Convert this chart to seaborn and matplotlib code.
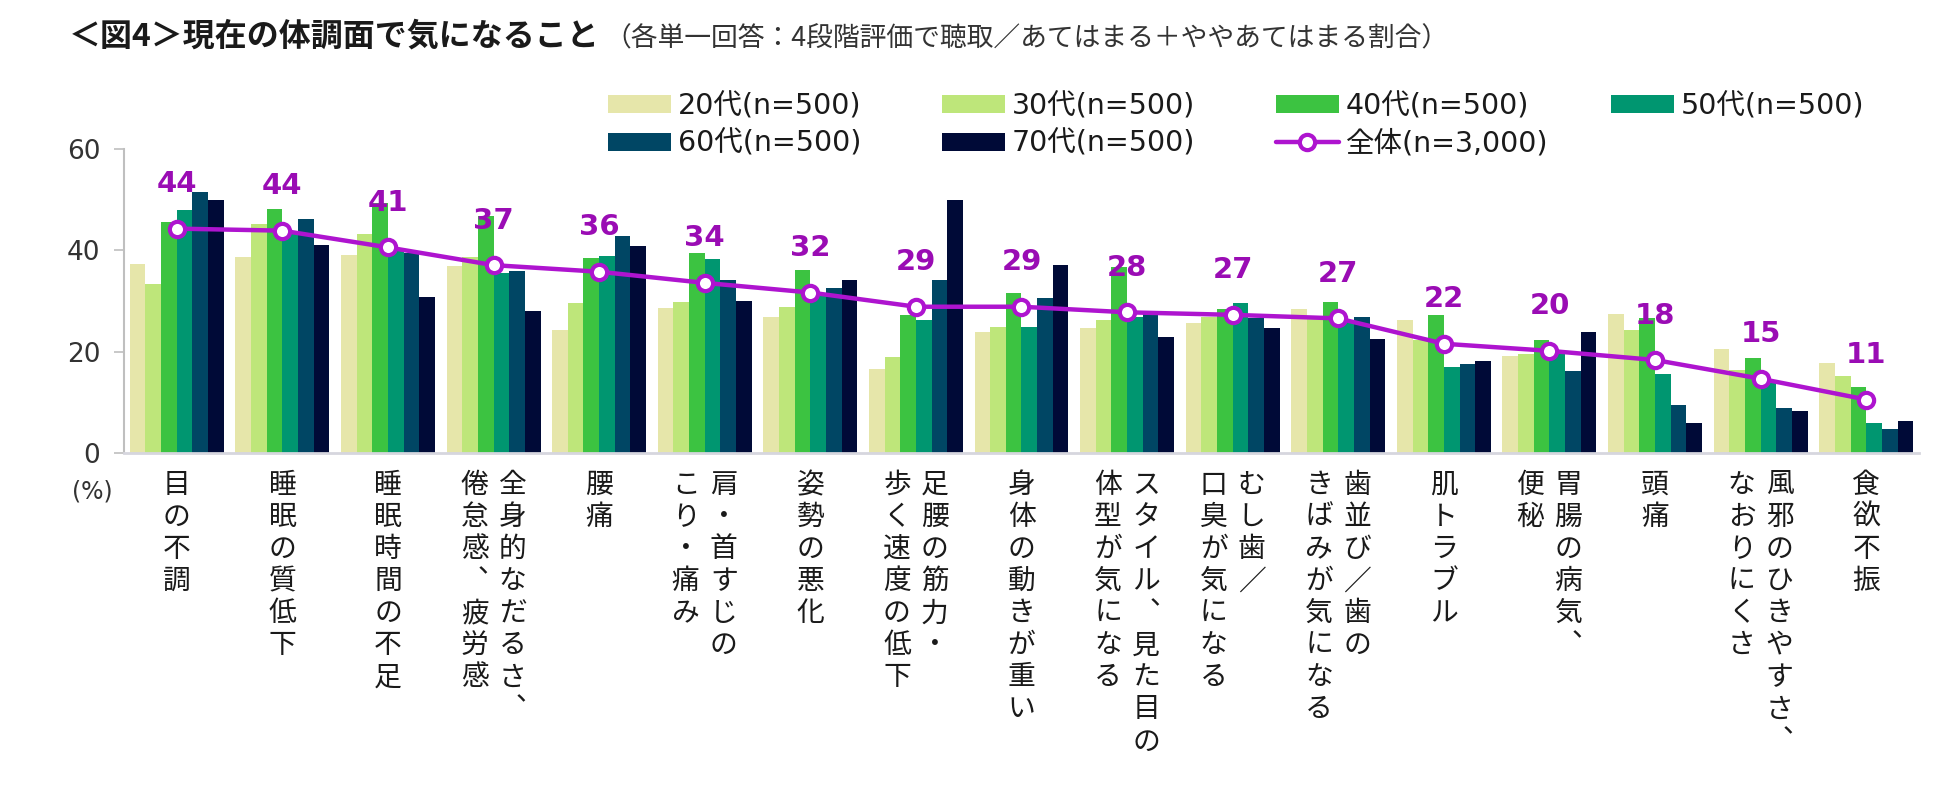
import numpy as np
import pandas as pd
import matplotlib
matplotlib.use("Agg")
import matplotlib.pyplot as plt
from matplotlib.patches import Patch
from matplotlib.lines import Line2D
import seaborn as sns

# ---------------- data ----------------
items = ["目の不調", "睡眠の質低下", "睡眠時間の不足", "全身的なだるさ、倦怠感、疲労感",
         "腰痛", "肩・首すじのこり・痛み", "姿勢の悪化", "足腰の筋力・歩く速度の低下",
         "身体の動きが重い", "スタイル、見た目の体型が気になる", "むし歯／口臭が気になる",
         "歯並び／歯のきばみが気になる", "肌トラブル", "胃腸の病気、便秘", "頭痛",
         "風邪のひきやすさ、なおりにくさ", "食欲不振"]

# vertical tick labels, one string per column (right column first)
tick_cols = [["目の不調"], ["睡眠の質低下"], ["睡眠時間の不足"], ["全身的なだるさ︑", "倦怠感︑疲労感"],
             ["腰痛"], ["肩・首すじの", "こり・痛み"], ["姿勢の悪化"], ["足腰の筋力・", "歩く速度の低下"],
             ["身体の動きが重い"], ["スタイル︑見た目の", "体型が気になる"], ["むし歯／", "口臭が気になる"],
             ["歯並び／歯の", "きばみが気になる"], ["肌トラブル"], ["胃腸の病気︑", "便秘"], ["頭痛"],
             ["風邪のひきやすさ︑", "なおりにくさ"], ["食欲不振"]]

ages = ["20代(n=500)", "30代(n=500)", "40代(n=500)", "50代(n=500)", "60代(n=500)", "70代(n=500)"]
overall_name = "全体(n=3,000)"

v20 = [37.3, 38.8, 39.1, 36.9, 24.3, 28.7, 26.8, 16.6, 23.9, 24.7, 25.7, 28.5, 26.3, 19.1, 27.5, 20.6, 17.9]
v30 = [33.3, 45.2, 43.2, 38.8, 29.7, 29.8, 28.8, 19.0, 24.9, 26.3, 26.8, 26.5, 22.3, 19.6, 24.3, 16.4, 15.2]
v40 = [45.6, 48.2, 49.3, 46.8, 38.5, 39.5, 36.1, 27.3, 31.6, 36.8, 28.5, 29.8, 27.2, 22.3, 26.6, 18.7, 13.1]
v50 = [48.0, 43.5, 40.5, 35.5, 38.9, 38.3, 31.0, 26.2, 25.0, 26.9, 29.7, 26.0, 17.0, 20.0, 15.7, 13.8, 5.9]
v60 = [51.5, 46.2, 39.5, 35.9, 42.9, 34.2, 32.5, 34.1, 30.6, 28.1, 26.6, 26.8, 17.6, 16.3, 9.5, 9.0, 4.7]
v70 = [50.0, 41.1, 30.8, 28.1, 40.8, 30.1, 34.1, 50.0, 37.1, 22.9, 24.7, 22.5, 18.2, 23.9, 5.9, 8.3, 6.3]
overall = [44.3, 43.9, 40.6, 37.1, 35.8, 33.6, 31.7, 28.9, 28.9, 27.8, 27.3, 26.6, 21.6, 20.2, 18.4, 14.7, 10.6]

colors = ["#E6E6AA", "#BEE67A", "#3CC341", "#009670", "#004664", "#000A37"]
line_color = "#AE14CF"
label_color = "#9A0CB4"

df = pd.DataFrame({
    "item": items * 6,
    "age": np.repeat(ages, len(items)),
    "value": v20 + v30 + v40 + v50 + v60 + v70,
})

# ---------------- style ----------------
sns.set_theme(style="white")
plt.rcParams["font.family"] = ["Noto Sans CJK JP", "DejaVu Sans"]
latin = ["DejaVu Sans", "Noto Sans CJK JP"]

W, H = 1950, 785
fig = plt.figure(figsize=(W / 100, H / 100), dpi=100)
ax = fig.add_axes([124 / W, 1 - 453.3 / H, (1919 - 124) / W, (453.3 - 149) / H])

sns.barplot(data=df, x="item", y="value", hue="age", order=items, hue_order=ages,
            palette=colors, saturation=1, width=0.89, gap=0, linewidth=0,
            legend=False, ax=ax)

x = np.arange(len(items))
ax.plot(x, overall, color=line_color, lw=3.2, marker="o", ms=11,
        mfc="white", mec=line_color, mew=3, zorder=5)
for xi, v in zip(x, overall):
    ax.annotate(f"{round(v)}", (xi, v), xytext=(0, 32), textcoords="offset points",
                ha="center", va="center", fontsize=21, fontweight="bold",
                family=latin, color=label_color, zorder=6)

ax.set_ylim(0, 60)
ax.set_xlim(-0.5, len(items) - 0.5)
ax.set_yticks([0, 20, 40, 60])
ax.tick_params(axis="y", left=True, length=7, width=1.2, color="#BFBFBF",
               labelsize=19, labelcolor="#333333", pad=10)
for t in ax.get_yticklabels():
    t.set_family(latin)
ax.set_xticks([])
ax.set_xlabel("")
ax.set_ylabel("")
for s in ["top", "right"]:
    ax.spines[s].set_visible(False)
ax.spines["left"].set_color("#BFBFBF")
ax.spines["left"].set_linewidth(1.5)
ax.spines["bottom"].set_color("#D6D6DE")
ax.spines["bottom"].set_linewidth(2)

# vertical category labels
col_gap = 0.36
for i, cols in enumerate(tick_cols):
    k = len(cols)
    for j, col in enumerate(cols):
        xo = i + (k - 1) / 2 * col_gap - j * col_gap
        ax.annotate("\n".join(col), xy=(xo, 0), xycoords=("data", "axes fraction"),
                    xytext=(0, -12), textcoords="offset points", ha="center", va="top",
                    multialignment="center", fontsize=20, linespacing=1.09,
                    color="#1A1A1A", annotation_clip=False)

fig.text(92 / W, 1 - 491 / H, "(%)", ha="center", va="center", fontsize=17,
         family=latin, color="#333333")

# title
fig.text(69 / W, 1 - 37 / H, "＜図4＞現在の体調面で気になること", ha="left", va="center",
         fontsize=23, fontweight="bold", color="#1A1A1A")
fig.text(604 / W, 1 - 39 / H, "（各単一回答：4段階評価で聴取／あてはまる＋ややあてはまる割合）",
         ha="left", va="center", fontsize=19.3, color="#333333")

# legend: one column per legend so the columns sit at equal pitch
patches = [Patch(facecolor=c, edgecolor="none", label=a) for a, c in zip(ages, colors)]
line_h = Line2D([0], [0], color=line_color, lw=3.2, marker="o", ms=11,
                mfc="white", mec=line_color, mew=3, label=overall_name)
legend_cols = [[patches[0], patches[4]], [patches[1], patches[5]],
               [patches[2], line_h], [patches[3]]]
col_x = [608, 942, 1276, 1611]
for cx, hs in zip(col_x, legend_cols):
    fig.legend(handles=hs, labels=[h.get_label() for h in hs], ncol=1,
               loc="upper left", bbox_to_anchor=(cx / W, 1 - 92 / H), frameon=False,
               prop={"family": latin, "size": 20.5}, handlelength=2.2, handleheight=0.6,
               handletextpad=0.25, labelspacing=0.35, borderpad=0, borderaxespad=0,
               labelcolor="#1A1A1A")

fig.savefig("out.png", dpi=100)
